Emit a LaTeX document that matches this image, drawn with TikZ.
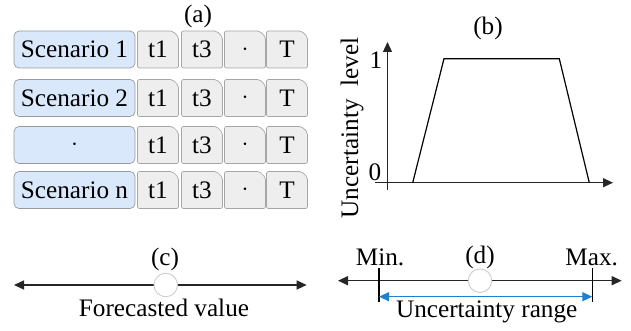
\documentclass[tikz,border=0pt]{standalone}
\usepackage{fontspec}
\setmainfont{Liberation Serif}
\usetikzlibrary{arrows.meta,shapes.misc}
\definecolor{scfill}{HTML}{DAE8FC}
\definecolor{scdraw}{HTML}{9A9A9A}
\definecolor{cellfill}{HTML}{EEEEEE}
\definecolor{celldraw}{HTML}{A6A6A6}
\definecolor{circdraw}{HTML}{C8C8C8}
\definecolor{rangeblue}{HTML}{1F7FD0}
\tikzset{
  scen/.style={draw=scdraw, fill=scfill, rounded corners=5pt, minimum width=121pt, minimum height=37pt, inner sep=0pt, line width=0.7pt},
  cellbox/.style={draw=celldraw, fill=cellfill, chamfered rectangle, chamfered rectangle corners=north east, chamfered rectangle xsep=3pt, chamfered rectangle ysep=3pt, rounded corners=2pt, minimum width=41pt, minimum height=37pt, inner sep=0pt, line width=0.7pt},
  txt/.style={inner sep=0pt},
  axis/.style={line width=1.3pt, draw=black!85},
  tipA/.style={-{Triangle[length=10pt,width=9pt]}},
  tipB/.style={{Triangle[length=10pt,width=9pt]}-{Triangle[length=10pt,width=9pt]}},
  dot/.style={circle, draw=circdraw, fill=white, minimum size=23.5pt, inner sep=0pt, line width=0.8pt},
}
\begin{document}
\begin{tikzpicture}[x=1pt,y=-1pt,font=\fontsize{25.2}{29}\selectfont]
\useasboundingbox (0,0) rectangle (631,331);
% (a)
\node[txt] (la) at (198,16) {(a)};
\foreach \r/\y/\lab in {1/49.5/Scenario 1,2/98/Scenario 2,3/145/$\cdot$,4/190/Scenario n}{
  \node[scen] (s\r) at (74.5,\y) {\lab};
  \node[cellbox] (c\r a) at (158,\y) {t1};
  \node[cellbox] (c\r b) at (202,\y) {t3};
  \node[cellbox] (c\r c) at (245,\y) {$\cdot$};
  \node[cellbox] (c\r d) at (287,\y) {T};
}
% (b)
\node[txt] (lb) at (488,28) {(b)};
\coordinate (yb) at (387.5,190);
\coordinate (yt) at (387.5,42);
\coordinate (xl) at (375,182.7);
\coordinate (xr) at (613,182.7);
\draw[axis,tipA] (yb) -- (yt);
\draw[axis,tipA] (xl) -- (xr);
\coordinate (p1) at (412.7,182.7);
\coordinate (p2) at (444,58.7);
\coordinate (p3) at (559.3,58.7);
\coordinate (p4) at (589.3,182.7);
\draw[line width=1.2pt] (p1) -- (p2) -- (p3) -- (p4);
\node[txt] (one) at (376,60) {1};
\node[txt] (zero) at (375,172) {0};
\node[txt,rotate=90] (ylab) at (352,128) {Uncertainty\ \ level};
% (c)
\node[txt] (lc) at (165,259) {(c)};
\coordinate (cl) at (14,285);
\coordinate (cr) at (306.7,285);
\draw[axis,tipB] (cl) -- (cr);
\node[dot] (cc) at (165.7,285) {};
\node[txt] (fv) at (164,308) {Forecasted value};
% (d)
\coordinate (dl) at (338,280.7);
\coordinate (dr) at (621.7,280.7);
\draw[axis,tipB] (dl) -- (dr);
\coordinate (mint) at (379,268);
\coordinate (minb) at (379,301.7);
\coordinate (maxt) at (592.3,268);
\coordinate (maxb) at (592.3,301.7);
\draw[line width=1.1pt] (mint) -- (minb);
\draw[line width=1.1pt] (maxt) -- (maxb);
\coordinate (ra) at (379,296.7);
\coordinate (rb) at (592.3,296.7);
\draw[line width=1.3pt, draw=rangeblue, {Triangle[length=10pt,width=9pt,fill=rangeblue]}-{Triangle[length=10pt,width=9pt,fill=rangeblue]}] (ra) -- (rb);
\node[dot] (dc) at (480,280.7) {};
\node[txt] (ld) at (480,257) {(d)};
\node[txt] (mn) at (380,257) {Min.};
\node[txt] (mx) at (591.7,257) {Max.};
\node[txt] (ur) at (486.7,311.7) {Uncertainty range};
\end{tikzpicture}
\end{document}
